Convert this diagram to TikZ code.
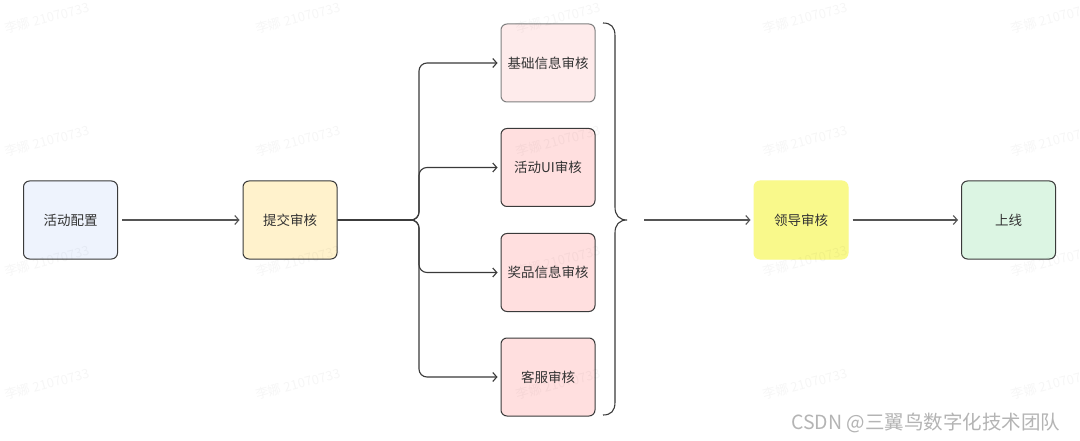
\documentclass[tikz,border=0pt]{standalone}
\usepackage{fontspec}
\newfontfamily\cjk{Noto Sans CJK SC}
\usetikzlibrary{arrows.meta}
\definecolor{linec}{HTML}{3A3A3A}
\definecolor{arrc}{HTML}{555555}
\definecolor{txt}{HTML}{333333}
\definecolor{fblue}{HTML}{EEF3FD}
\definecolor{fcream}{HTML}{FFF2CC}
\definecolor{fpinkl}{HTML}{FEEBEB}
\definecolor{fpink}{HTML}{FFDFDF}
\definecolor{fyellow}{HTML}{F9F98B}
\definecolor{fgreen}{HTML}{DCF5E3}
\definecolor{csdn}{HTML}{B4B4B4}
\begin{document}
\begin{tikzpicture}[x=1pt,y=-1pt,
  box/.style={draw=linec, line width=1pt, rounded corners=6pt, minimum width=94pt, minimum height=78pt, inner sep=0pt, font=\cjk\fontsize{13.5}{16}\selectfont, text=txt},
  conn/.style={draw=arrc, line width=1.1pt, -{Straight Barb[length=4pt,width=9pt]}},
  wm/.style={text=black, opacity=0.035, rotate=15, font=\cjk\fontsize{13}{15}\selectfont}]
\useasboundingbox[fill=white] (0,0) rectangle (1080,441);
\clip (0,0) rectangle (1080,441);

% nodes
\node[box, fill=fblue] (a) at (70.5,220) {活动配置};
\node[box, fill=fcream] (b) at (290,220) {提交审核};
\node[box, fill=fpinkl, draw=black!50] (c1) at (548,63) {基础信息审核};
\node[box, fill=fpink] (c2) at (548,167.5) {活动UI审核};
\node[box, fill=fpink] (c3) at (548,272.5) {奖品信息审核};
\node[box, fill=fpink] (c4) at (548,377) {客服审核};
\node[box, fill=fyellow, draw=fyellow] (d) at (801,220) {领导审核};
\node[box, fill=fgreen] (e) at (1008.5,220) {上线};

% connectors
\draw[conn, shorten <=4pt, shorten >=3pt] (a) -- (b);
\foreach \c in {c1,c2,c3,c4}
  \draw[conn, draw=linec, rounded corners=8pt, shorten >=3pt] (b.east) -- (419,220) |- (\c.west);

% brace
\coordinate (bt) at (627,220);
\draw[linec, line width=1.1pt]
  (603,23) .. controls (611,23) and (615,27) .. (615,36) -- (615,207)
  .. controls (615,215) and (619,220) .. (bt)
  .. controls (619,220) and (615,225) .. (615,233) -- (615,402)
  .. controls (615,411) and (611,415) .. (603,415);
\coordinate (bs) at (644,220);
\draw[conn, shorten >=3pt] (bs) -- (d);
\draw[conn, shorten <=4pt, shorten >=3pt] (d) -- (e);

% watermarks
\foreach \x in {47,298,558,805,1053}
  \foreach \y in {18,141,261,384}
    \node[wm] at (\x,\y) {李娜 21070733};

% footer
\node[anchor=west, text=csdn, font=\cjk\fontsize{19.5}{22}\selectfont, inner sep=0pt] (f) at (791,423) {CSDN @三翼鸟数字化技术团队};
\end{tikzpicture}
\end{document}
